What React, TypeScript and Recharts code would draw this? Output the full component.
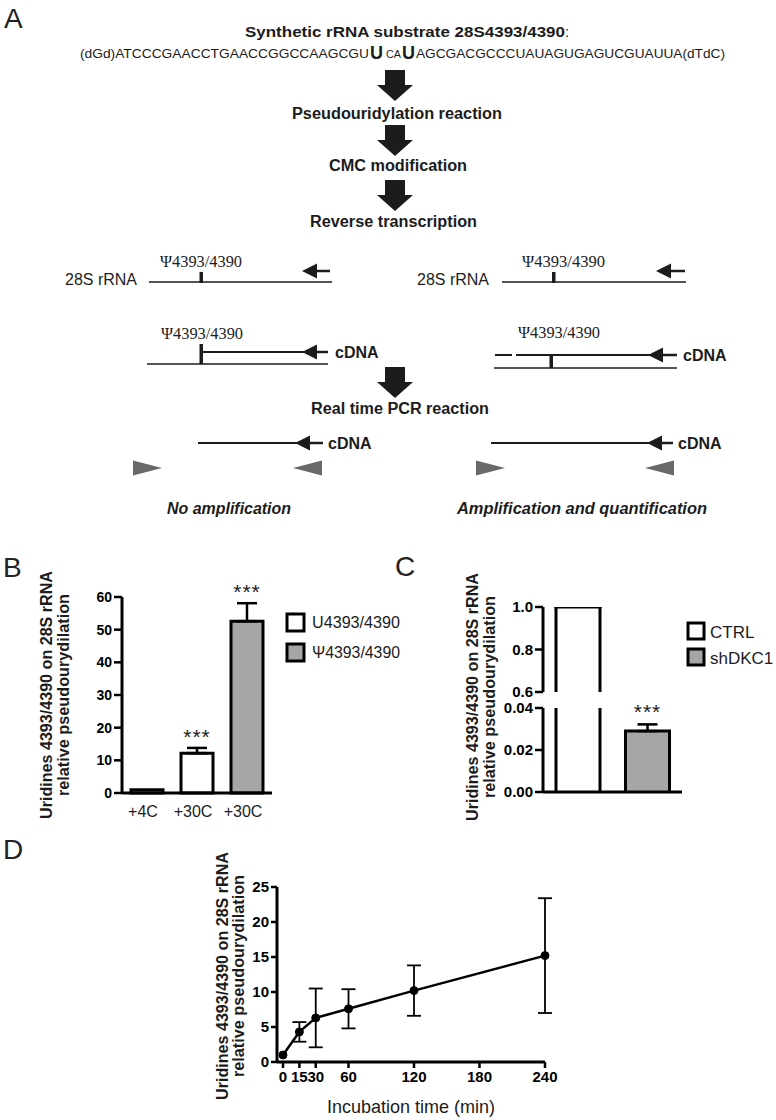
import React from 'react';
import {
  BarChart, Bar, XAxis, YAxis, Cell, ErrorBar, LabelList, LineChart, Line,
} from 'recharts';

// ---------------- data ----------------
const bCategories = ['+4C', '+30C', '+30C'];
const bSeries = ['U4393/4390', 'U4393/4390', 'Ψ4393/4390'];
const bValues = [1.0, 12.2, 52.6];
const bErrors = [0, 1.6, 5.5];
const bStars = ['', '***', '***'];
const bYTicks = [0, 10, 20, 30, 40, 50, 60];
const bLegendLabels = ['U4393/4390', 'Ψ4393/4390'];
const bLegendColors = ['#ffffff', '#a6a6a6'];

const cCategories = ['CTRL', 'shDKC1'];
const cValues = [1.0, 0.029];
const cErrors = [0, 0.0032];
const cStars = ['', '***'];
const cColors = ['#ffffff', '#a6a6a6'];
const cUpperTicks = [0.6, 0.8, 1.0];
const cLowerTicks = [0, 0.02, 0.04];

const dTimes = [0, 15, 30, 60, 120, 240];
const dValues = [1.0, 4.3, 6.3, 7.6, 10.2, 15.2];
const dErrors = [0, 1.4, 4.2, 2.8, 3.6, 8.2];
const dXTicks = [0, 15, 30, 60, 120, 180, 240];
const dYTicks = [0, 5, 10, 15, 20, 25];

// ---------------- styles ----------------
const SANS = '"Liberation Sans", Arial, Helvetica, sans-serif';
const NARROW = '"Liberation Sans Narrow", "Arial Narrow", "Liberation Sans", Arial, sans-serif';
const SERIF = '"Liberation Serif", "Times New Roman", serif';
const INK = '#1c1c1c';

// ---------------- tables for the library ----------------
const bData = bCategories.map((cat, i) => ({
  cat,
  value: bValues[i],
  err: bErrors[i] > 0 ? [0, bErrors[i]] : null,
  stars: bStars[i],
  series: bSeries[i],
}));

const cUpperData = cCategories.map((cat, i) => ({
  cat,
  value: cValues[i] >= cUpperTicks[0] ? cValues[i] : null,
}));

const cLowerData = cCategories.map((cat, i) => ({
  cat,
  value: cValues[i],
  err: cErrors[i] > 0 ? [0, cErrors[i]] : null,
  stars: cStars[i],
}));

const dData = dTimes.map((t, i) => ({
  t,
  value: dValues[i],
  err: dErrors[i] > 0 ? dErrors[i] : null,
}));

// ---------------- helpers ----------------
function starContent(values: number[], errors: number[], stars: string[], gap: number, size: number) {
  return (props: any) => {
    const i = typeof props.index === 'number' ? props.index : -1;
    if (i < 0 || !stars[i]) return null;
    const vb = props.viewBox && typeof props.viewBox.height === 'number' ? props.viewBox : props;
    const { x, y, width, height } = vb;
    if (![x, y, width, height].every((v: any) => typeof v === 'number' && isFinite(v))) return null;
    const ppu = height / values[i];
    const top = y - errors[i] * ppu;
    return (
      <text x={x + width / 2} y={top - gap} textAnchor="middle" fontFamily={SANS}
        fontSize={size} letterSpacing={1} fill={INK}>{stars[i]}</text>
    );
  };
}

const OpenBar = (props: any) => {
  const { x, y, width, height, payload } = props;
  if (typeof height !== 'number' || !isFinite(height) || height <= 0 || !isFinite(y)) return null;
  const fill = cColors[cCategories.indexOf(payload.cat)];
  return (
    <g>
      <rect x={x} y={y} width={width} height={height} fill={fill} />
      <line x1={x} y1={y} x2={x} y2={y + height} stroke="#000" strokeWidth={3} />
      <line x1={x + width} y1={y} x2={x + width} y2={y + height} stroke="#000" strokeWidth={3} />
      <line x1={x - 1.5} y1={y} x2={x + width + 1.5} y2={y} stroke="#000" strokeWidth={3} />
    </g>
  );
};

const axisLine = { stroke: '#000', strokeWidth: 3 };
const tickLine = { stroke: '#000', strokeWidth: 2.5 };

// ---------------- panels ----------------
function PanelB() {
  return (
    <BarChart width={390} height={290} data={bData} margin={{ top: 57, right: 118, bottom: 7, left: 0 }}>
      <XAxis dataKey="cat" height={30} tickLine={false} tickSize={0} tickMargin={13}
        axisLine={axisLine}
        tick={{ fontSize: 16, fill: INK, fontFamily: SANS, dx: -4 }} />
      <YAxis width={122} domain={[0, 60]} ticks={bYTicks} interval={0} tickSize={8} tickMargin={2}
        axisLine={axisLine} tickLine={tickLine}
        tick={{ fontSize: 14, fontWeight: 700, fill: '#000', fontFamily: SANS }} />
      <Bar dataKey="value" barSize={32} stroke="#000" strokeWidth={3} isAnimationActive={false}>
        {bData.map((d, i) => (
          <Cell key={i} fill={bLegendColors[bLegendLabels.indexOf(d.series)]} />
        ))}
        <ErrorBar dataKey="err" width={10} stroke="#000" strokeWidth={2.5} direction="y" />
        <LabelList dataKey="stars" content={starContent(bValues, bErrors, bStars, 4, 21)} />
      </Bar>
    </BarChart>
  );
}

function PanelCUpper() {
  return (
    <BarChart width={386} height={160} data={cUpperData} margin={{ top: 67, right: 94, bottom: 8, left: 0 }}>
      <XAxis dataKey="cat" hide />
      <YAxis width={153} domain={[0.6, 1.0]} allowDataOverflow ticks={cUpperTicks} interval={0}
        tickFormatter={(v: number) => v.toFixed(1)} tickSize={8} tickMargin={2}
        axisLine={axisLine} tickLine={tickLine}
        tick={{ fontSize: 15, fontWeight: 700, fill: '#000', fontFamily: NARROW }} />
      <Bar dataKey="value" barSize={44} shape={OpenBar} isAnimationActive={false} />
    </BarChart>
  );
}

function PanelCLower() {
  return (
    <BarChart width={386} height={130} data={cLowerData} margin={{ top: 8, right: 94, bottom: 8, left: 0 }}>
      <XAxis dataKey="cat" height={30} tick={false} tickLine={false} axisLine={axisLine} />
      <YAxis width={153} domain={[0, 0.04]} allowDataOverflow ticks={cLowerTicks} interval={0}
        tickFormatter={(v: number) => v.toFixed(2)} tickSize={8} tickMargin={2}
        axisLine={axisLine} tickLine={tickLine}
        tick={{ fontSize: 15, fontWeight: 700, fill: '#000', fontFamily: NARROW }} />
      <Bar dataKey="value" barSize={44} shape={OpenBar} isAnimationActive={false}>
        <ErrorBar dataKey="err" width={10} stroke="#000" strokeWidth={2.5} direction="y" />
        <LabelList dataKey="stars" content={starContent(cValues, cErrors, cStars, 5, 21)} />
      </Bar>
    </BarChart>
  );
}

function PanelD() {
  return (
    <LineChart width={450} height={270} data={dData} margin={{ top: 37, right: 55, bottom: 28, left: 0 }}>
      <XAxis dataKey="t" type="number" domain={[0, 240]} ticks={dXTicks} interval={0}
        padding={{ left: 6, right: 0 }} height={30} tickSize={6} tickMargin={3}
        axisLine={axisLine} tickLine={tickLine}
        tick={{ fontSize: 15, fontWeight: 700, fill: '#000', fontFamily: NARROW }} />
      <YAxis width={127} domain={[0, 25]} ticks={dYTicks} interval={0} tickSize={6} tickMargin={2}
        axisLine={axisLine} tickLine={tickLine}
        tick={{ fontSize: 15, fontWeight: 700, fill: '#000', fontFamily: NARROW }} />
      <Line dataKey="value" type="linear" stroke="#000" strokeWidth={2.5}
        dot={{ r: 4, fill: '#000', stroke: '#000', strokeWidth: 1 }} activeDot={false}
        isAnimationActive={false}>
        <ErrorBar dataKey="err" width={7} stroke="#000" strokeWidth={1.8} direction="y" />
      </Line>
    </LineChart>
  );
}

// ---------------- schematic pieces ----------------
const BlockArrow = ({ cx, top }: { cx: number; top: number }) => (
  <g fill={INK}>
    <rect x={cx - 10} y={top} width={20} height={16} />
    <polygon points={`${cx - 18},${top + 15} ${cx + 18},${top + 15} ${cx},${top + 31}`} />
  </g>
);

const LeftArrow = ({ tip, y, end }: { tip: number; y: number; end: number }) => (
  <g>
    <line x1={tip + 10} y1={y} x2={end} y2={y} stroke={INK} strokeWidth={2.5} />
    <polygon points={`${tip},${y} ${tip + 15},${y - 7.5} ${tip + 15},${y + 7.5}`} fill={INK} />
  </g>
);

const Primer = ({ x, y, dir }: { x: number; y: number; dir: 1 | -1 }) => (
  <polygon
    points={dir === 1
      ? `${x},${y - 7.5} ${x},${y + 7.5} ${x + 29},${y}`
      : `${x},${y - 7.5} ${x},${y + 7.5} ${x - 29},${y}`}
    fill="#696969" />
);

const YTitle = ({ x1, x2, cy }: { x1: number; x2: number; cy: number }) => (
  <g fontFamily={SANS} fontWeight={700} fontSize={17} fill={INK}>
    <text transform={`translate(${x1},${cy}) rotate(-90)`} x={-124} y={0}
      textLength={248} lengthAdjust="spacingAndGlyphs">Uridines 4393/4390 on 28S rRNA</text>
    <text transform={`translate(${x2},${cy}) rotate(-90)`} x={-101} y={0}
      textLength={202} lengthAdjust="spacingAndGlyphs">relative pseudourydilation</text>
  </g>
);

function Overlay() {
  return (
    <svg width={776} height={1120} style={{ position: 'absolute', left: 0, top: 0 }}>
      {/* panel letters */}
      <g fontFamily={SANS} fontSize={28} fill="#222">
        <text x={4} y={28}>A</text>
        <text x={3} y={577}>B</text>
        <text x={395} y={576}>C</text>
        <text x={3} y={859}>D</text>
      </g>

      {/* panel A */}
      <g fontFamily={SANS} fill={INK}>
        <text x={245} y={37} fontSize={15} fontWeight={700} textLength={320} lengthAdjust="spacingAndGlyphs">
          Synthetic rRNA substrate 28S4393/4390
        </text>
        <text x={565} y={37} fontSize={15}>:</text>

        <text x={80} y={58} fontSize={13} textLength={289} lengthAdjust="spacingAndGlyphs">
          (dGd)ATCCCGAACCTGAACCGGCCAAGCGU
        </text>
        <text x={370} y={59} fontSize={18} fontWeight={700}>U</text>
        <text x={386} y={58} fontSize={10} textLength={15} lengthAdjust="spacingAndGlyphs">CA</text>
        <text x={402} y={59} fontSize={18} fontWeight={700}>U</text>
        <text x={416} y={58} fontSize={13} textLength={309} lengthAdjust="spacingAndGlyphs">
          AGCGACGCCCUAUAGUGAGUCGUAUUA(dTdC)
        </text>

        <BlockArrow cx={395} top={70} />
        <text x={292} y={119} fontSize={16} fontWeight={700} textLength={210} lengthAdjust="spacingAndGlyphs">
          Pseudouridylation reaction
        </text>
        <BlockArrow cx={395} top={125} />
        <text x={329} y={171} fontSize={16} fontWeight={700} textLength={138} lengthAdjust="spacingAndGlyphs">
          CMC modification
        </text>
        <BlockArrow cx={395} top={180} />
        <text x={310} y={227} fontSize={16} fontWeight={700} textLength={167} lengthAdjust="spacingAndGlyphs">
          Reverse transcription
        </text>

        {/* 28S rRNA rows */}
        <text x={160} y={267} fontFamily={SERIF} fontSize={16} textLength={82} lengthAdjust="spacingAndGlyphs">Ψ4393/4390</text>
        <text x={65} y={285} fontSize={16}>28S rRNA</text>
        <line x1={149} y1={282} x2={332} y2={282} stroke={INK} strokeWidth={1.4} />
        <rect x={199.5} y={272} width={3.5} height={11} fill={INK} />
        <LeftArrow tip={302} y={271} end={330} />

        <text x={522} y={267} fontFamily={SERIF} fontSize={16} textLength={83} lengthAdjust="spacingAndGlyphs">Ψ4393/4390</text>
        <text x={417} y={285} fontSize={16}>28S rRNA</text>
        <line x1={502} y1={282} x2={686} y2={282} stroke={INK} strokeWidth={1.4} />
        <rect x={552} y={272} width={3.5} height={11} fill={INK} />
        <LeftArrow tip={656} y={271} end={685} />

        {/* cDNA rows */}
        <text x={161} y={339} fontFamily={SERIF} fontSize={16} textLength={82} lengthAdjust="spacingAndGlyphs">Ψ4393/4390</text>
        <line x1={203} y1={352} x2={306} y2={352} stroke={INK} strokeWidth={2} />
        <LeftArrow tip={302} y={352} end={328} />
        <rect x={199.5} y={344} width={3.5} height={20} fill={INK} />
        <line x1={147} y1={364} x2={328} y2={364} stroke={INK} strokeWidth={1.4} />
        <text x={335} y={358} fontSize={16} fontWeight={700}>cDNA</text>

        <text x={518} y={338} fontFamily={SERIF} fontSize={16} textLength={82} lengthAdjust="spacingAndGlyphs">Ψ4393/4390</text>
        <line x1={495} y1={355} x2={512} y2={355} stroke={INK} strokeWidth={2} />
        <line x1={516} y1={355} x2={652} y2={355} stroke={INK} strokeWidth={2} />
        <LeftArrow tip={648} y={355} end={677} />
        <rect x={549.5} y={355} width={3.5} height={13} fill={INK} />
        <line x1={494} y1={368} x2={677} y2={368} stroke={INK} strokeWidth={1.4} />
        <text x={683} y={361} fontSize={16} fontWeight={700}>cDNA</text>

        <BlockArrow cx={395} top={367} />
        <text x={311} y={414} fontSize={16} fontWeight={700} textLength={178} lengthAdjust="spacingAndGlyphs">
          Real time PCR reaction
        </text>

        {/* PCR rows */}
        <line x1={198} y1={443} x2={299} y2={443} stroke={INK} strokeWidth={2} />
        <LeftArrow tip={295} y={443} end={323} />
        <text x={328} y={449} fontSize={16} fontWeight={700}>cDNA</text>
        <Primer x={133} y={468} dir={1} />
        <Primer x={322} y={468} dir={-1} />

        <line x1={491} y1={443} x2={651} y2={443} stroke={INK} strokeWidth={2} />
        <LeftArrow tip={647} y={443} end={673} />
        <text x={678} y={449} fontSize={16} fontWeight={700}>cDNA</text>
        <Primer x={476} y={468} dir={1} />
        <Primer x={674} y={468} dir={-1} />

        <text x={167} y={514} fontSize={16} fontWeight={700} fontStyle="italic" textLength={124} lengthAdjust="spacingAndGlyphs">
          No amplification
        </text>
        <text x={457} y={514} fontSize={16} fontWeight={700} fontStyle="italic" textLength={250} lengthAdjust="spacingAndGlyphs">
          Amplification and quantification
        </text>
      </g>

      {/* axis titles */}
      <YTitle x1={52} x2={69} cy={695} />
      <YTitle x1={478} x2={495} cy={697} />
      <YTitle x1={228} x2={244} cy={976} />
      <text x={327} y={1113} fontFamily={SANS} fontSize={19} fill={INK} textLength={168} lengthAdjust="spacingAndGlyphs">
        Incubation time (min)
      </text>

      {/* legends */}
      <g fontFamily={SANS} fontSize={16} fill={INK}>
        {bLegendLabels.map((lab, i) => (
          <g key={lab}>
            <rect x={287} y={614 + i * 30} width={17} height={17} fill={bLegendColors[i]} stroke="#000" strokeWidth={3} />
            <text x={312} y={628 + i * 30} textLength={88} lengthAdjust="spacingAndGlyphs">{lab}</text>
          </g>
        ))}
        {cCategories.map((lab, i) => (
          <g key={lab}>
            <rect x={688} y={623 + i * 26} width={16} height={16} fill={cColors[i]} stroke="#000" strokeWidth={3} />
            <text x={710} y={638 + i * 26} fontSize={17}>{lab}</text>
          </g>
        ))}
      </g>
    </svg>
  );
}

export default function App() {
  return (
    <div style={{ position: 'absolute', left: 0, top: 0, width: 776, height: 1120, background: '#fff', overflow: 'hidden' }}>
      <Overlay />
      <div style={{ position: 'absolute', left: 0, top: 540 }}><PanelB /></div>
      <div style={{ position: 'absolute', left: 390, top: 540 }}><PanelCUpper /></div>
      <div style={{ position: 'absolute', left: 390, top: 700 }}><PanelCLower /></div>
      <div style={{ position: 'absolute', left: 150, top: 850 }}><PanelD /></div>
    </div>
  );
}
